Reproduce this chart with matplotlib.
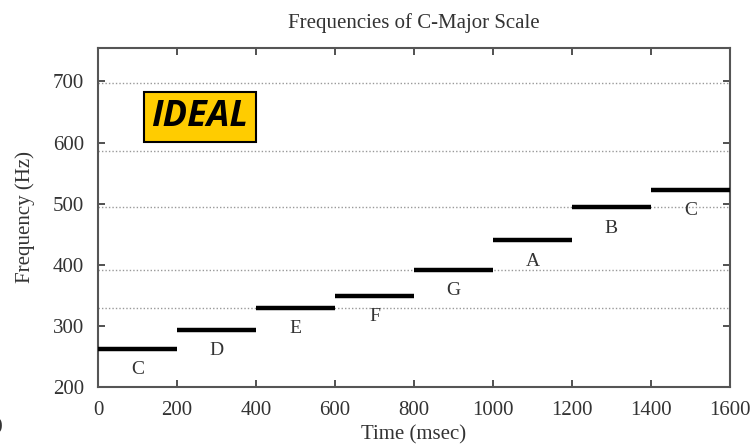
import matplotlib
matplotlib.use("Agg")
from matplotlib import pyplot as plt

# note data
notes = ["C", "D", "E", "F", "G", "A", "B", "C"]
freqs = [262, 294, 330, 349, 392, 440, 494, 523]
starts = [0, 200, 400, 600, 800, 1000, 1200, 1400]
dur = 200
# dotted lines = treble staff lines (E G B D F)
staff = [330, 392, 494, 587, 698]
xticks = [0, 200, 400, 600, 800, 1000, 1200, 1400, 1600]
yticks = [200, 300, 400, 500, 600, 700]

plt.rcParams['font.family'] = ['Liberation Serif', 'DejaVu Serif']

fig = plt.figure(figsize=(7.54, 4.47), dpi=100)
ax = fig.add_axes([0.130, 0.134, 0.838, 0.759])

for s in staff:
    ax.axhline(s, color="#999999", linestyle=(0, (1, 1.5)), linewidth=1.0, zorder=1)

for n, f, s in zip(notes, freqs, starts):
    ax.hlines(f, s, s + dur, color="black", linewidth=3.2, zorder=3)
    ax.text(s + dur / 2, f - 34, n, ha="center", va="center", fontsize=14, color="#333333")

ax.set_xlim(0, 1600)
ax.set_ylim(200, 755)
ax.set_xticks(xticks)
ax.set_yticks(yticks)
ax.tick_params(direction="in", top=True, right=True, length=5, labelsize=15,
               colors="#333333", width=1.2)
ax.tick_params(axis="x", pad=10)
ax.tick_params(axis="y", pad=10)
for sp in ax.spines.values():
    sp.set_color("#555555")
    sp.set_linewidth(1.5)

ax.set_title("Frequencies of C-Major Scale", fontsize=15, color="#333333", pad=14)
ax.set_xlabel("Time (msec)", fontsize=15, color="#333333", labelpad=4)
ax.set_ylabel("Frequency (Hz)", fontsize=15, color="#333333", labelpad=13)

ax.text(0.161, 0.796, "IDEAL", transform=ax.transAxes, ha="center", va="center",
        fontsize=26, fontweight="bold", fontstyle="italic", family="Open Sans",
        bbox=dict(boxstyle="square,pad=0.2", facecolor="#FFCC00", edgecolor="black", linewidth=1.5),
        zorder=5)

fig.text(-0.025, 0.048, "(a)", fontsize=14, color="#333333", va="center")

fig.savefig("out.png", dpi=100)
